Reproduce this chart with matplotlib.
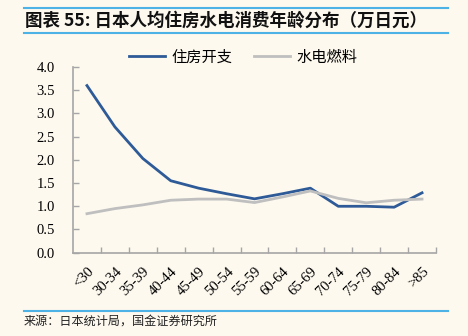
import matplotlib
matplotlib.use("Agg")
import matplotlib.pyplot as plt
from matplotlib.lines import Line2D

categories = ["<30", "30-34", "35-39", "40-44", "45-49", "50-54", "55-59",
              "60-64", "65-69", "70-74", "75-79", "80-84", ">85"]
housing = [3.60, 2.71, 2.03, 1.55, 1.39, 1.27, 1.16, 1.27, 1.39, 1.00, 1.00, 0.98, 1.29]
utilities = [0.84, 0.95, 1.03, 1.13, 1.155, 1.155, 1.08, 1.20, 1.33, 1.17, 1.075, 1.13, 1.155]
yticks = [0.0, 0.5, 1.0, 1.5, 2.0, 2.5, 3.0, 3.5, 4.0]

BG = "#FDF9EF"
BLUE = "#2E5B98"
GRAY = "#BFBFBF"
LINEBLUE = "#4DB3E6"
CJK = ["Noto Sans CJK SC", "DejaVu Sans"]

W, H = 468, 336
fig = plt.figure(figsize=(W / 100, H / 100), dpi=100, facecolor=BG)
ax = fig.add_axes([73 / W, 1 - 252.7 / H, (436 - 73) / W, (252.7 - 67) / H])
ax.set_facecolor(BG)

x = list(range(len(categories)))
ax.plot(x, housing, color=BLUE, lw=2.0, solid_joinstyle="round")
ax.plot(x, utilities, color=GRAY, lw=2.0, solid_joinstyle="round")

ax.set_xlim(-0.5, len(categories) - 0.5)
ax.set_ylim(0, 4)
ax.set_yticks(yticks)
ax.set_yticklabels([f"{v:.1f}" for v in yticks], family="Liberation Serif", fontsize=10.5)
ax.set_xticks(x)
ax.set_xticklabels(categories, family="Liberation Serif", fontsize=10.5,
                   rotation=45, ha="right", va="top", rotation_mode="anchor")
ax.set_xticks([i + 0.5 for i in x], minor=True)
ax.tick_params(axis="x", which="major", length=0, pad=9)
ax.tick_params(axis="x", which="minor", direction="in", length=4, color="#A6A6A6", width=1)
ax.tick_params(axis="y", direction="in", length=4, color="#A6A6A6", width=1, pad=13)

for s in ["top", "right"]:
    ax.spines[s].set_visible(False)
for s in ["left", "bottom"]:
    ax.spines[s].set_color("#A6A6A6")
    ax.spines[s].set_linewidth(1.2)

handles = [Line2D([], [], color=BLUE, lw=2.0), Line2D([], [], color=GRAY, lw=2.0)]
fig.legend(handles, ["住房开支", "水电燃料"], loc="center", bbox_to_anchor=(243 / W, 1 - 57 / H),
           ncol=2, frameon=False, prop={"family": CJK, "size": 11},
           handlelength=2.4, handletextpad=0.4, columnspacing=1.4)

# title block
fig.add_artist(Line2D([24 / W, 448 / W], [1 - 7.5 / H] * 2, color=LINEBLUE, lw=1.5))
fig.add_artist(Line2D([24 / W, 448 / W], [1 - 33 / H] * 2, color=LINEBLUE, lw=1.5))
fig.text(25 / W, 1 - 20.5 / H, "图表 55: 日本人均住房水电消费年龄分布（万日元）",
         family=CJK, fontsize=12.6, fontweight="bold", ha="left", va="center", color="#111111")

# source block
fig.add_artist(Line2D([24 / W, 448 / W], [1 - 311 / H] * 2, color=LINEBLUE, lw=1.5))
fig.text(24 / W, 1 - 321.5 / H, "来源：日本统计局，国金证券研究所",
         family=CJK, fontsize=8.7, ha="left", va="center", color="#222222")

fig.savefig("out.png", dpi=100, facecolor=BG)
